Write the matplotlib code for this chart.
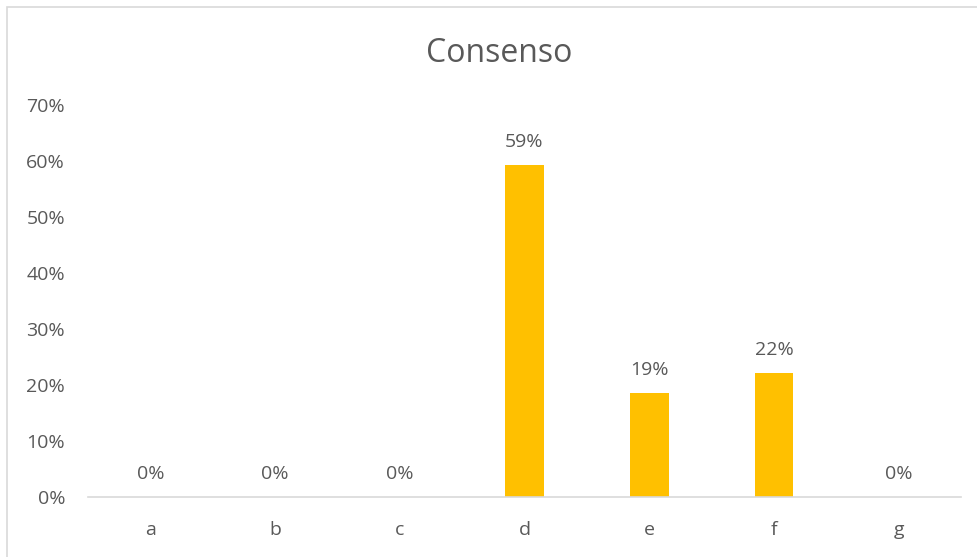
import matplotlib.pyplot as plt
from matplotlib.patches import Rectangle
from matplotlib.ticker import PercentFormatter

categories = ['a', 'b', 'c', 'd', 'e', 'f', 'g']
values = [0.0, 0.0, 0.0, 16 / 27, 5 / 27, 6 / 27, 0.0]

BAR_COLOR = '#FFC000'
TEXT_COLOR = '#595959'
LINE_COLOR = '#D9D9D9'

plt.rcParams['font.family'] = ['Open Sans', 'DejaVu Sans']

fig = plt.figure(figsize=(9.78, 5.57), dpi=100)
ax = fig.add_axes([88 / 978, 60 / 557, (961 - 88) / 978, (452 - 60) / 557])

x = range(len(categories))
bars = ax.bar(x, values, width=0.31, color=BAR_COLOR)
for xi, v in zip(x, values):
    ax.annotate(f'{v:.0%}', (xi, v), xytext=(0, 10), textcoords='offset points',
                ha='center', va='bottom', fontsize=14, color=TEXT_COLOR)

ax.set_xlim(-0.5, len(categories) - 0.5)
ax.set_ylim(0, 0.7)
ax.set_yticks([i / 10 for i in range(8)])
ax.yaxis.set_major_formatter(PercentFormatter(1.0, decimals=0))
ax.set_xticks(list(x))
ax.set_xticklabels(categories)
ax.tick_params(axis='both', length=0, labelsize=14, labelcolor=TEXT_COLOR)
ax.tick_params(axis='x', pad=17)
ax.tick_params(axis='y', pad=16.5)

for s in ['top', 'right', 'left']:
    ax.spines[s].set_visible(False)
ax.spines['bottom'].set_color(LINE_COLOR)
ax.spines['bottom'].set_linewidth(1.2)

fig.text(499 / 978, 1 - 53 / 557, 'Consenso', ha='center', va='center',
         fontsize=23, color=TEXT_COLOR)

fig.patches.append(Rectangle((7 / 978, -0.1), 1.1, 1 - 7 / 557 + 0.1,
                             transform=fig.transFigure, fill=False,
                             edgecolor=LINE_COLOR, linewidth=1.2))

fig.savefig('out.png', dpi=100)
